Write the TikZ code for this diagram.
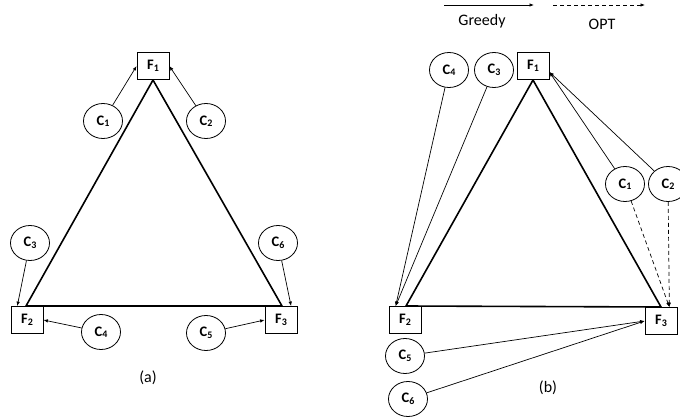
\documentclass[tikz,border=0pt]{standalone}
\usepackage{fontspec}
\setmainfont{Carlito}
\usetikzlibrary{shapes.geometric,arrows.meta}
\newcommand{\lbl}[2]{\textbf{#1\raisebox{-1.5pt}{\fontsize{10}{12}\selectfont #2}}}
\begin{document}
\begin{tikzpicture}[x=1pt,y=-1pt,
  fac/.style={draw,line width=0.8pt,rectangle,minimum width=32pt,minimum height=27pt,inner sep=0pt,fill=white,font=\fontsize{14.5}{16}\selectfont},
  cli/.style={draw,line width=0.8pt,ellipse,minimum width=39pt,minimum height=35pt,inner sep=0pt,fill=white,font=\fontsize{14.5}{16}\selectfont},
  tri/.style={line width=1.6pt,line join=miter},
  arr/.style={line width=0.7pt,-{Latex[length=4.5pt,width=3.5pt]}},
  darr/.style={arr,dash pattern=on 4pt off 3pt},
  captxt/.style={font=\fontsize{16}{19}\selectfont}
]
\useasboundingbox (0,0) rectangle (680,420);
% ---------- panel (a)
\coordinate (a1) at (153,80);
\coordinate (a2) at (26,306);
\coordinate (a3) at (282,306);
\draw[tri] (a1) -- (a2) -- (a3) -- cycle;
\node[fac] (af1) at (153,66) {\lbl{F}{1}};
\node[fac] (af2) at (27,320) {\lbl{F}{2}};
\node[fac] (af3) at (281,320) {\lbl{F}{3}};
\node[cli] (ac1) at (103,121) {\lbl{C}{1}};
\node[cli] (ac2) at (206,121) {\lbl{C}{2}};
\node[cli] (ac3) at (30,243) {\lbl{C}{3}};
\node[cli] (ac6) at (278,243) {\lbl{C}{6}};
\node[cli] (ac4) at (101,332) {\lbl{C}{4}};
\node[cli] (ac5) at (206,333) {\lbl{C}{5}};
\draw[arr] (ac1) -- (af1.west);
\draw[arr] (ac2) -- (af1.east);
\draw[arr] (ac3) -- (af2.125);
\draw[arr] (ac6) -- (af3.54);
\draw[arr] (ac4) -- (af2.east);
\draw[arr] (ac5) -- (af3.west);
\node[captxt] (la) at (148,378) {(a)};
% ---------- legend
\coordinate (g1) at (444,5);
\coordinate (g2) at (534,5);
\coordinate (o1) at (553,5);
\coordinate (o2) at (645,5);
\draw[arr] (g1) -- (g2);
\draw[darr] (o1) -- (o2);
\node[captxt] (lg) at (482,21) {Greedy};
\node[captxt] (lo) at (602,24) {OPT};
% ---------- panel (b)
\coordinate (b1) at (533,80);
\coordinate (b2) at (406,306);
\coordinate (b3) at (661,307);
\draw[tri] (b1) -- (b2) -- (b3) -- cycle;
\node[fac] (bf1) at (533,66) {\lbl{F}{1}};
\node[fac] (bf2) at (405,320) {\lbl{F}{2}};
\node[fac] (bf3) at (661,321) {\lbl{F}{3}};
\node[cli] (bc4) at (449,70) {\lbl{C}{4}};
\node[cli] (bc3) at (494,70) {\lbl{C}{3}};
\node[cli] (bc1) at (625,184) {\lbl{C}{1}};
\node[cli] (bc2) at (668,184) {\lbl{C}{2}};
\node[cli] (bc5) at (405,356) {\lbl{C}{5}};
\node[cli] (bc6) at (408,399) {\lbl{C}{6}};
\draw[arr] (bc4) -- (bf2.124);
\draw[arr] (bc3) -- (bf2.124);
\draw[arr] (bc1) -- (bf1.-20);
\draw[arr] (bc2) -- (bf1.-20);
\draw[darr] (bc1) -- (bf3.59);
\draw[darr] (bc2) -- (bf3.59);
\draw[arr] (bc5) -- (bf3.west);
\draw[arr] (bc6) -- (bf3.west);
\node[captxt] (lb) at (548,388) {(b)};
\end{tikzpicture}
\end{document}
